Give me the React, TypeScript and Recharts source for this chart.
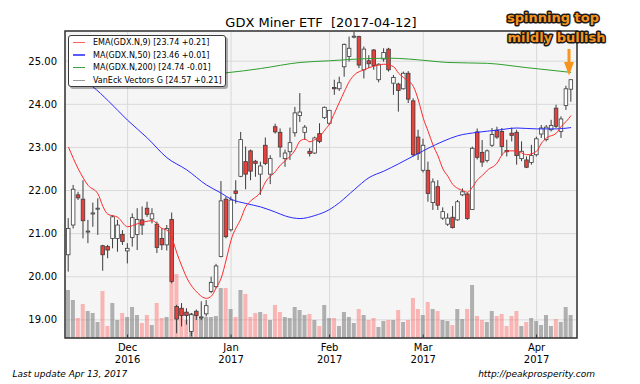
import React from 'react';
import { ComposedChart, Bar, Line, XAxis, YAxis, CartesianGrid } from 'recharts';

// Daily GDX candles, Nov 14 2016 .. Apr 12 2017 (trading-day index)
const opens = [
  20.51, 21.20, 21.90, 21.80, 21.04, 21.46, 21.57, 20.72, 20.70, 20.89,
  20.89, 20.98, 20.60, 20.91, 20.98, 21.32, 21.59, 21.34, 21.22, 20.89,
  20.74, 21.33, 19.31, 19.27, 19.18, 18.73, 19.20, 19.06, 19.14, 19.66,
  19.77, 20.47, 21.80, 21.09, 21.99, 22.33, 22.67, 22.92, 22.68, 22.38,
  23.05, 22.38, 23.48, 23.35, 22.74, 22.90, 23.34, 23.74, 23.35, 22.91,
  22.87, 23.32, 23.69, 23.56, 24.39, 24.36, 24.87, 25.11, 25.56, 25.57,
  24.80, 25.01, 25.26, 24.57, 25.05, 25.28, 24.49, 24.47, 24.36, 24.72,
  24.08, 23.24, 22.47, 22.47, 21.72, 22.09, 21.36, 21.22, 21.38, 21.32,
  21.90, 21.92, 21.56, 23.36, 22.88, 22.70, 23.05, 23.40, 23.37, 22.93,
  23.33, 23.35, 22.74, 22.71, 22.65, 22.83, 23.31, 23.18, 23.41, 23.91,
  23.37, 23.97, 24.35,
];
const highs = [
  21.36, 22.13, 21.97, 22.24, 21.32, 21.72, 21.82, 20.74, 20.74, 21.43,
  21.32, 21.08, 20.78, 21.47, 21.59, 21.63, 21.74, 21.59, 21.28, 21.12,
  21.20, 21.49, 19.35, 19.39, 19.27, 19.16, 19.24, 19.43, 19.46, 20.00,
  20.30, 22.22, 21.86, 21.86, 22.24, 23.36, 23.02, 22.95, 22.71, 22.67,
  23.23, 22.82, 23.55, 23.44, 22.95, 23.46, 23.94, 24.26, 23.52, 22.98,
  23.25, 23.56, 23.95, 23.87, 24.57, 24.64, 25.41, 25.57, 25.68, 25.59,
  25.34, 25.14, 25.28, 24.95, 25.30, 25.31, 24.68, 24.50, 24.76, 24.77,
  24.14, 23.41, 23.20, 22.67, 22.28, 22.24, 21.61, 21.47, 21.64, 21.78,
  22.05, 21.95, 23.02, 23.44, 23.17, 22.95, 23.45, 23.48, 23.45, 23.18,
  23.46, 23.41, 23.14, 22.79, 23.06, 23.25, 23.52, 23.52, 23.64, 23.99,
  23.72, 24.43, 24.58,
];
const lows = [
  20.12, 21.12, 21.78, 20.89, 20.78, 21.16, 20.97, 20.14, 20.43, 20.66,
  20.58, 20.74, 20.31, 20.70, 20.62, 20.97, 21.39, 21.24, 20.55, 20.62,
  20.61, 19.85, 18.69, 18.85, 18.89, 18.62, 19.00, 19.00, 19.08, 19.62,
  19.73, 20.45, 20.89, 21.05, 21.70, 22.31, 22.03, 22.24, 22.32, 21.90,
  22.59, 22.15, 23.32, 22.77, 22.55, 22.71, 23.25, 23.59, 23.18, 22.79,
  22.85, 23.10, 23.66, 23.52, 24.22, 24.31, 24.64, 24.99, 25.53, 24.84,
  24.60, 24.84, 24.80, 24.51, 24.99, 24.76, 24.22, 23.83, 24.34, 24.03,
  22.79, 22.71, 22.42, 21.74, 21.55, 21.55, 21.32, 21.18, 21.12, 21.30,
  21.87, 21.32, 21.55, 22.72, 22.55, 22.65, 23.01, 23.20, 22.81, 22.79,
  23.14, 22.60, 22.68, 22.52, 22.60, 22.79, 23.22, 23.14, 23.37, 23.45,
  23.22, 23.87, 24.06,
];
const closes = [
  21.12, 22.03, 21.83, 21.30, 21.06, 21.48, 21.59, 20.51, 20.62, 21.39,
  21.20, 20.82, 20.66, 21.37, 21.33, 21.20, 21.45, 21.46, 20.68, 20.74,
  21.12, 19.89, 19.02, 19.10, 19.10, 19.12, 19.10, 19.07, 19.33, 19.87,
  20.25, 21.76, 20.93, 21.78, 21.93, 23.18, 22.38, 22.45, 22.63, 22.57,
  22.63, 22.74, 23.36, 23.01, 22.87, 23.11, 23.80, 23.82, 23.47, 22.86,
  23.22, 23.14, 23.93, 23.86, 24.36, 24.50, 25.39, 25.30, 25.58, 24.91,
  25.28, 24.94, 24.90, 24.93, 25.20, 24.80, 24.62, 24.32, 24.72, 24.12,
  22.83, 22.86, 23.05, 21.93, 22.20, 21.66, 21.51, 21.36, 21.14, 21.74,
  21.97, 21.35, 22.98, 22.77, 22.66, 22.92, 23.30, 23.24, 23.02, 22.90,
  23.28, 22.81, 22.91, 22.54, 22.81, 23.20, 23.45, 23.47, 23.51, 23.49,
  23.66, 24.36, 24.57,
];
// volume, millions of shares
const volumes = [
  96, 76, 40, 68, 54, 50, 32, 94, 24, 70,
  36, 50, 42, 62, 46, 30, 46, 26, 70, 40,
  42, 112, 128, 60, 36, 50, 52, 42, 42, 42,
  44, 100, 100, 58, 42, 96, 88, 42, 50, 52,
  48, 36, 66, 52, 42, 40, 62, 56, 46, 48,
  36, 24, 66, 40, 40, 24, 52, 42, 30, 58,
  46, 36, 40, 22, 34, 36, 36, 56, 32, 36,
  80, 58, 46, 72, 58, 54, 36, 34, 26, 58,
  38, 58, 106, 44, 36, 32, 54, 44, 48, 24,
  44, 54, 24, 32, 40, 34, 26, 46, 24, 38,
  32, 62, 46,
];

// moving averages read at selected days
const emaIdx = [0, 2, 4, 6, 7, 8, 10, 12, 14, 17, 19, 20, 21, 22, 23, 24, 26, 28, 29, 30, 31, 32, 33, 35, 36, 37, 39, 40, 42, 43, 44, 46, 47, 48, 49, 50, 51, 52, 53, 54, 55, 56, 57, 58, 60, 61, 63, 64, 66, 67, 68, 70, 71, 72, 73, 74, 75, 76, 77, 78, 79, 80, 81, 82, 83, 84, 85, 87, 88, 89, 91, 92, 93, 95, 96, 97, 99, 100, 101, 102];
const emaVal = [23.01, 22.50, 22.12, 21.92, 21.63, 21.45, 21.38, 21.16, 21.23, 21.30, 21.12, 21.08, 20.90, 20.55, 20.25, 19.98, 19.65, 19.50, 19.55, 19.75, 19.97, 20.39, 20.85, 21.35, 21.63, 21.76, 21.97, 22.20, 22.44, 22.59, 22.69, 22.94, 23.15, 23.19, 23.13, 23.18, 23.25, 23.40, 23.55, 23.80, 24.05, 24.30, 24.53, 24.68, 24.80, 24.85, 24.91, 24.93, 24.87, 24.72, 24.62, 24.41, 24.10, 23.68, 23.37, 23.05, 22.80, 22.50, 22.33, 22.14, 22.05, 22.00, 21.96, 22.08, 22.25, 22.35, 22.47, 22.64, 22.83, 22.92, 22.92, 22.87, 22.83, 22.91, 23.10, 23.22, 23.33, 23.49, 23.60, 23.74];
const ma50Idx = [0, 2, 5, 8, 12, 16, 20, 24, 28, 31, 33, 36, 39, 42, 44, 47, 50, 53, 55, 58, 61, 64, 67, 70, 73, 76, 79, 83, 87, 91, 95, 99, 102];
const ma50Val = [24.85, 24.62, 24.40, 24.09, 23.63, 23.22, 22.76, 22.48, 22.13, 21.94, 21.80, 21.70, 21.62, 21.50, 21.41, 21.35, 21.42, 21.56, 21.72, 22.02, 22.30, 22.45, 22.62, 22.80, 22.98, 23.14, 23.27, 23.35, 23.40, 23.45, 23.43, 23.43, 23.46];
const ma200Idx = [0, 10, 20, 28, 32, 39, 47, 53, 57, 65, 69, 73, 77, 85, 93, 102];
const ma200Val = [24.55, 24.60, 24.65, 24.70, 24.73, 24.83, 24.97, 25.01, 25.04, 25.07, 25.05, 25.01, 24.97, 24.95, 24.85, 24.74];

const monthTickIdx = [12, 33, 53, 72, 95];
const monthTickMonth = ['Dec', 'Jan', 'Feb', 'Mar', 'Apr'];
const monthTickYear = ['2016', '2017', '2017', '2017', '2017'];
const priceTicks = [19, 20, 21, 22, 23, 24, 25];

const legendItems = [
  { label: 'EMA(GDX.N,9) [23.74 +0.21]', color: '#ff6060' },
  { label: 'MA(GDX.N,50) [23.46 +0.01]', color: '#5a5aff' },
  { label: 'MA(GDX.N,200) [24.74 -0.01]', color: '#40a040' },
  { label: 'VanEck Vectors G [24.57 +0.21]', color: '#9a9a9a' },
];

const FONT = '"DejaVu Sans", Verdana, sans-serif';

function pick(idxs: number[], vals: number[], i: number): number | null {
  const k = idxs.indexOf(i);
  return k >= 0 ? vals[k] : null;
}

const rows = opens.map((o, i) => ({
  idx: i,
  open: o,
  high: highs[i],
  low: lows[i],
  close: closes[i],
  range: [lows[i], highs[i]],
  volume: volumes[i],
  ema: pick(emaIdx, emaVal, i),
  ma50: pick(ma50Idx, ma50Val, i),
  ma200: pick(ma200Idx, ma200Val, i),
}));

const CandleShape = (props: any) => {
  const { x, y, width, height, payload } = props;
  if (!payload || x == null || y == null) return null;
  const { open, close, high, low } = payload;
  const top = Math.min(y, y + height);
  const h = Math.abs(height);
  const k = high > low ? h / (high - low) : 0;
  const cx = x + width / 2;
  const yO = top + (high - open) * k;
  const yC = top + (high - close) * k;
  const up = close >= open;
  const bTop = Math.min(yO, yC);
  const bH = Math.max(Math.abs(yC - yO), 1);
  const bw = 3.6;
  return (
    <g>
      <line x1={cx} x2={cx} y1={top} y2={top + h} stroke="#3c3c3c" strokeWidth={1} />
      <rect x={cx - bw / 2} y={bTop} width={bw} height={bH} fill={up ? '#ffffff' : '#e8403c'} stroke="#3c3c3c" strokeWidth={0.8} />
    </g>
  );
};

const VolShape = (props: any) => {
  const { x, y, width, height, payload } = props;
  if (!payload || x == null) return null;
  const up = payload.close >= payload.open;
  return (
    <rect x={x} y={Math.min(y, y + height)} width={width} height={Math.abs(height)}
      fill={up ? '#808080' : '#ff5a5a'} fillOpacity={up ? 0.6 : 0.42} />
  );
};

const MonthTick = (props: any) => {
  const { x, payload } = props;
  const k = monthTickIdx.indexOf(payload.value);
  if (k < 0) return null;
  return (
    <g>
      <line x1={x} x2={x} y1={338} y2={334.5} stroke="#333" strokeWidth={1} />
      <text x={x} y={350.5} textAnchor="middle" fontSize={10} fill="#000" fontFamily={FONT}>{monthTickMonth[k]}</text>
      <text x={x} y={363} textAnchor="middle" fontSize={10} fill="#000" fontFamily={FONT}>{monthTickYear[k]}</text>
    </g>
  );
};

export default function App() {
  return (
    <div style={{ position: 'fixed', left: 0, top: 0, width: 640, height: 384, background: '#fff', overflow: 'hidden', fontFamily: FONT }}>
      <ComposedChart width={640} height={384} data={rows} margin={{ top: 31, right: 63, bottom: 0, left: 5 }} style={{ fontFamily: FONT }}>
        <CartesianGrid stroke="#d9d9d9" fill="#f5f5f5" />
        <XAxis dataKey="idx" type="number" domain={[-0.7, 103.2]} ticks={monthTickIdx} interval={0} allowDataOverflow
          tick={<MonthTick />} tickLine={false} axisLine={false} height={46} />
        <XAxis xAxisId="v" dataKey="idx" type="number" domain={[-0.7, 103.2]} allowDataOverflow hide />
        <YAxis type="number" domain={[18.58, 25.7]} ticks={priceTicks} allowDataOverflow width={60}
          tickLine={false} axisLine={false} tickFormatter={(v: number) => v.toFixed(2)}
          tick={{ fontSize: 10, fill: '#000', fontFamily: FONT }} />
        <YAxis yAxisId="v" type="number" domain={[0, 614]} allowDataOverflow hide />
        <Bar xAxisId="v" yAxisId="v" dataKey="volume" barSize={4} shape={VolShape} isAnimationActive={false} />
        <Bar dataKey="range" barSize={5} shape={CandleShape} isAnimationActive={false} />
        <Line dataKey="ma200" type="monotone" stroke="#2f9e2f" strokeWidth={1} dot={false} connectNulls isAnimationActive={false} />
        <Line dataKey="ma50" type="monotone" stroke="#2a2aff" strokeWidth={1} dot={false} connectNulls isAnimationActive={false} />
        <Line dataKey="ema" type="monotone" stroke="#ff2a2a" strokeWidth={1} dot={false} connectNulls isAnimationActive={false} />
      </ComposedChart>

      <svg width={640} height={384} style={{ position: 'absolute', left: 0, top: 0, pointerEvents: 'none' }}>
        <rect x={65} y={31} width={512} height={307} fill="none" stroke="#333" strokeWidth={1.5} />
        <text x={321} y={27} textAnchor="middle" fontSize={13} fill="#000" fontFamily={FONT} style={{ whiteSpace: 'pre' }}>GDX Miner ETF  [2017-04-12]</text>
        <text x={12.5} y={377} fontSize={9} fontStyle="italic" fill="#000" fontFamily={FONT}>Last update Apr 13, 2017</text>
        <text x={595} y={377} textAnchor="end" fontSize={9} fontStyle="italic" fill="#000" fontFamily={FONT}>http://peakprosperity.com</text>
        <g fontFamily={FONT} fontWeight="bold" fontSize={13} fill="#f7941d" stroke="#1a1a1a" strokeWidth={3} strokeLinejoin="round" style={{ paintOrder: 'stroke' }}>
          <text x={553} y={21.5} textAnchor="middle">spinning top</text>
          <text x={556.5} y={41.5} textAnchor="middle">mildly bullish</text>
        </g>
        <line x1={569} x2={569} y1={49} y2={64} stroke="#f7941d" strokeWidth={3} />
        <polygon points="564,62 574,62 569,75.5" fill="#f7941d" />
      </svg>

      <div style={{ position: 'absolute', left: 68, top: 35, width: 158, height: 52, background: '#fff', border: '1px solid #3a3a3a', borderRadius: 3, boxShadow: '2px 2px 0 rgba(0,0,0,0.3)', boxSizing: 'border-box' }}>
        {legendItems.map((it, k) => (
          <div key={k} style={{ position: 'absolute', left: 4, top: 1 + k * 12.6, height: 11, display: 'flex', alignItems: 'center', whiteSpace: 'nowrap' }}>
            <div style={{ width: 12, height: 1.5, background: it.color, marginRight: 8 }} />
            <span style={{ fontSize: 8, color: '#000', fontFamily: FONT, lineHeight: '11px' }}>{it.label}</span>
          </div>
        ))}
      </div>
    </div>
  );
}
